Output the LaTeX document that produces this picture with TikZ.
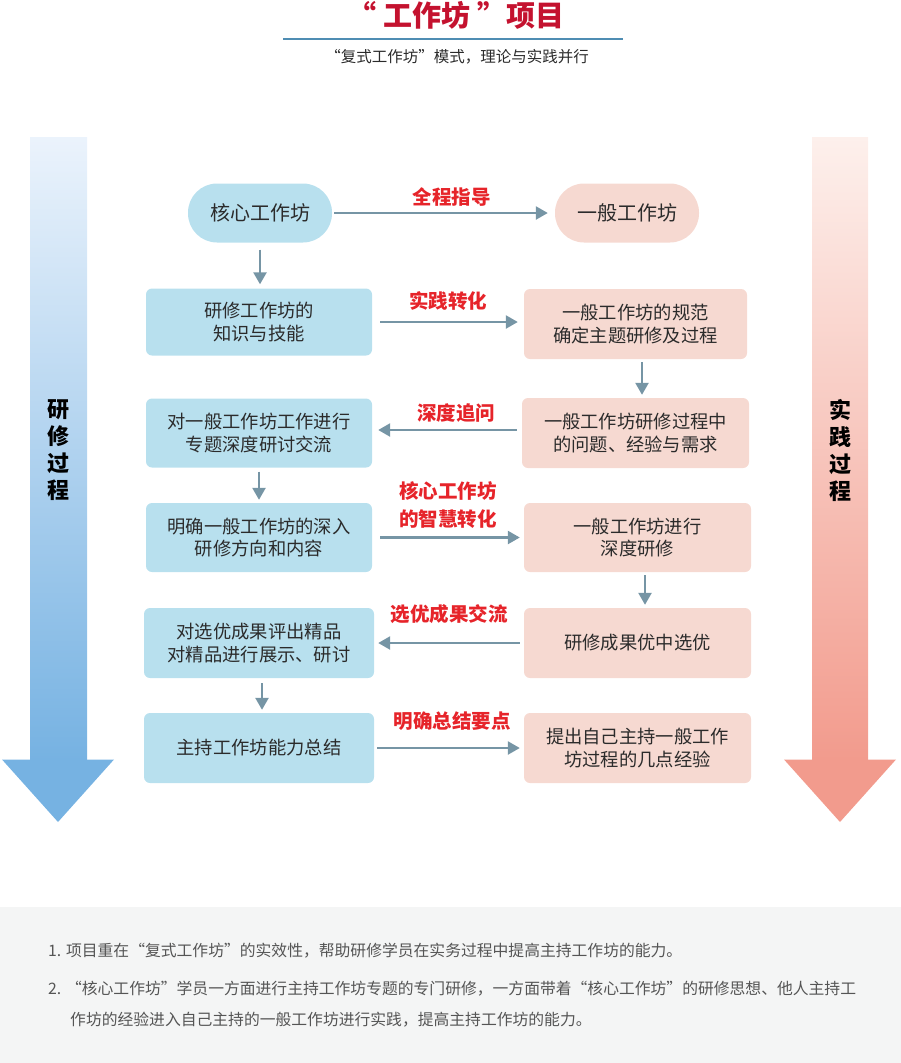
\documentclass[tikz,border=0pt]{standalone}
\usepackage{fontspec}
\setmainfont{Noto Sans CJK SC}
\usetikzlibrary{arrows.meta, calc, positioning}
\definecolor{boxblue}{HTML}{B8E0EE}
\definecolor{boxpink}{HTML}{F6D9D1}
\definecolor{linegray}{HTML}{7695A5}
\definecolor{tagred}{HTML}{E6242A}
\definecolor{titlered}{HTML}{C4122F}
\definecolor{titleblue}{HTML}{4F8DB3}
\definecolor{textdark}{HTML}{2B2B2B}
\definecolor{notegray}{HTML}{555555}
\definecolor{panelgray}{HTML}{F4F5F5}
\definecolor{bluetop}{HTML}{EBF3FC}
\definecolor{bluebottom}{HTML}{76B2E2}
\definecolor{pinktop}{HTML}{FDF0EC}
\definecolor{pinkbottom}{HTML}{F29B8D}
\tikzstyle{core} = [rectangle, rounded corners=6pt, fill=boxblue, inner sep=0pt, minimum width=226pt, minimum height=68pt, align=center, text=textdark, font=\fontsize{18.3}{22.5}\selectfont]
\tikzstyle{general} = [core, fill=boxpink, minimum width=227pt, minimum height=70pt]
\tikzstyle{pill} = [core, rounded corners=29pt, minimum width=144pt, minimum height=59pt, font=\fontsize{20}{22}\selectfont]
\tikzstyle{tag} = [text=tagred, align=center, inner sep=0pt, font=\bfseries\fontsize{19.5}{28}\selectfont]
\tikzstyle{side} = [align=center, inner sep=0pt, text=black, font=\bfseries\fontsize{22}{27}\selectfont]
\tikzstyle{note} = [anchor=west, inner sep=0pt, text=notegray, font=\fontsize{15.8}{20}\selectfont]
\tikzstyle{arrow} = [line width=2.5pt, draw=linegray, -{Triangle[width=13pt,length=12pt]}]

\begin{document}
\begin{tikzpicture}[x=1pt, y=-1pt]
		\useasboundingbox (0,0) rectangle (901,1063);
		
		% title
		\node (Title) [text=titlered, inner sep=0pt, font=\bfseries\fontsize{29}{30}\selectfont] at (456,15) {“ 工作坊 ”项目};
		\draw[titleblue, line width=2pt] (283,39) -- (623,39);
		\node (Subtitle) [inner sep=0pt, text=textdark, font=\fontsize{15.5}{18}\selectfont] at (457,57) {“复式工作坊”模式，理论与实践并行};
		
		% process arrows
		\shade[top color=bluetop, bottom color=bluebottom] (30,137) rectangle (87,760);
		\fill[bluebottom] (30,759.5) -- (2,759.5) -- (58,822) -- (114,759.5) -- (87,759.5) -- cycle;
		\shade[top color=pinktop, bottom color=pinkbottom] (812,137) rectangle (868,760);
		\fill[pinkbottom] (812,759.5) -- (784,759.5) -- (840,822) -- (896,759.5) -- (868,759.5) -- cycle;
		\node (StudyProcess) [side] at (58,450) {研\\修\\过\\程};
		\node (PracticeProcess) [side] at (840,450) {实\\践\\过\\程};
		
		% left column
		\node (Core) [pill] at (260,213) {核心工作坊};
		\node (Knowledge) [core, minimum height=67pt] at (259,322) {研修工作坊的\\知识与技能};
		\node (Discuss) [core, minimum height=69pt] at (259,433) {对一般工作坊工作进行\\专题深度研讨交流};
		\node (Direction) [core, minimum height=69pt] at (259,537.5) {明确一般工作坊的深入\\研修方向和内容};
		\node (Select) [core, minimum width=230pt, minimum height=70pt] at (259,643) {对选优成果评出精品\\对精品进行展示、研讨};
		\node (Summary) [core, minimum width=230pt, minimum height=70pt] at (259,748) {主持工作坊能力总结};
		
		% right column
		\node (General) [pill, fill=boxpink] at (627,213) {一般工作坊};
		\node (Norm) [general, minimum width=223pt] at (635.5,324) {一般工作坊的规范\\确定主题研修及过程};
		\node (Problem) [general] at (635.5,433) {一般工作坊研修过程中\\的问题、经验与需求};
		\node (Deep) [general, minimum height=69pt] at (637.5,537.5) {一般工作坊进行\\深度研修};
		\node (Best) [general] at (637.5,643) {研修成果优中选优};
		\node (Experience) [general] at (637.5,748) {提出自己主持一般工作\\坊过程的几点经验};
		
		% horizontal connectors
		\draw [arrow, shorten <=2pt, shorten >=7pt] (Core.east) -- node[tag, above=5pt, xshift=8pt]{全程指导} (Core.east -| General.west);
		\draw [arrow, shorten <=8pt, shorten >=6pt] (Knowledge.east) -- node[tag, above=10pt]{实践转化} (Knowledge.east -| Norm.west);
		\draw [arrow, shorten <=5pt, shorten >=6pt] ([yshift=3pt]Problem.west) -- node[tag, above=6pt, xshift=9pt]{深度追问} ([yshift=3pt]Problem.west -| Discuss.east);
		\draw [arrow, shorten <=8pt, shorten >=4pt] (Direction.east) -- node[tag, above=8pt]{核心工作坊\\的智慧转化} (Direction.east -| Deep.west);
		\draw [arrow, shorten <=4pt, shorten >=4pt] (Best.west) -- node[tag, above=18pt]{选优成果交流} (Best.west -| Select.east);
		\draw [arrow, shorten <=3pt, shorten >=4pt] (Summary.east) -- node[tag, above=16pt, xshift=3pt]{明确总结要点} (Summary.east -| Experience.west);
		
		% vertical connectors
		\draw [arrow, shorten <=7pt, shorten >=4pt] (Core.south) -- (Core.south |- Knowledge.north);
		\draw [arrow, shorten <=4pt, shorten >=3pt] (Discuss.south) -- (Discuss.south |- Direction.north);
		\draw [arrow, shorten <=5pt, shorten >=3pt] ([xshift=3pt]Select.south) -- ([xshift=3pt]Select.south |- Summary.north);
		\draw [arrow, shorten <=3pt, shorten >=3pt] ([xshift=6.5pt]Norm.south) -- ([xshift=6.5pt]Norm.south |- Problem.north);
		\draw [arrow, shorten <=3pt, shorten >=3pt] ([xshift=7.5pt]Deep.south) -- ([xshift=7.5pt]Deep.south |- Best.north);
		
		% notes
		\fill[panelgray] (0,907) rectangle (901,1063);
		\node (Note1) [note] at (48,951) {1. 项目重在“复式工作坊”的实效性，帮助研修学员在实务过程中提高主持工作坊的能力。};
		\node (Note2) [note] at (48,989) {2. “核心工作坊”学员一方面进行主持工作坊专题的专门研修，一方面带着“核心工作坊”的研修思想、他人主持工};
		\node (Note3) [note] at (70,1020) {作坊的经验进入自己主持的一般工作坊进行实践，提高主持工作坊的能力。};
		\end{tikzpicture}
\end{document}
